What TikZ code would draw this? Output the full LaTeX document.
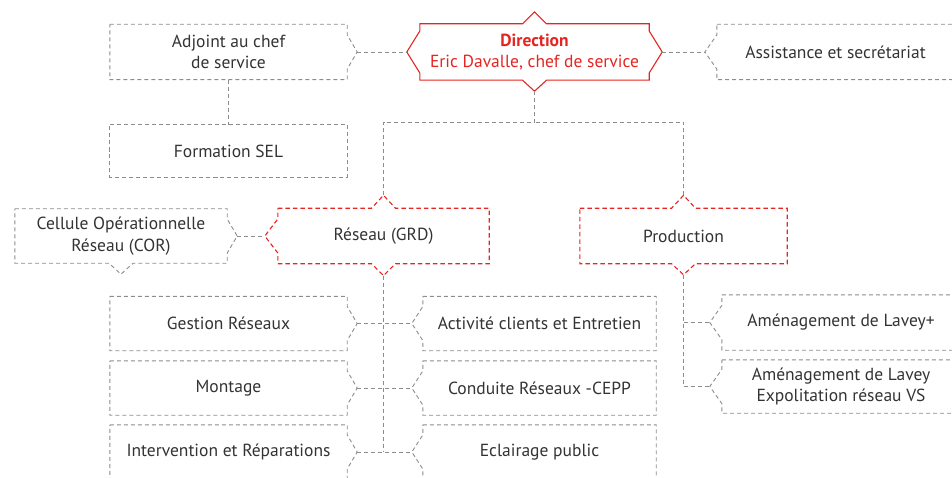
\documentclass[tikz,border=0pt]{standalone}
\usepackage{fontspec}
\setmainfont{PT Sans}
\usepackage{tikz}
\usetikzlibrary{calc}
\definecolor{ink}{HTML}{333333}
\definecolor{frame}{HTML}{8C8C8C}
\definecolor{alert}{HTML}{E52521}
\tikzset{
  unit/.style={text=ink, align=center, inner sep=0pt, font=\fontsize{17.5}{21.5}\selectfont},
  graybox/.style={draw=frame, line width=0.9pt, dash pattern=on 4pt off 3pt},
  redbox/.style={draw=alert, line width=1.1pt, dash pattern=on 4.5pt off 3pt},
  headbox/.style={draw=alert, line width=1.1pt},
  link/.style={draw=frame, line width=0.9pt, dash pattern=on 4pt off 3pt}
}
\def\notchw{12pt}
\def\notchh{17pt}
% outline of a box with a point on each side (depth 0pt = flat side)
\newcommand{\notchbox}[6][graybox]{%
  \draw[#1] (#2.north west)
    -- ($(#2.north)+(-\notchw,0)$) -- ($(#2.north)+(0,#3)$) -- ($(#2.north)+(\notchw,0)$)
    -- (#2.north east)
    -- ($(#2.east)+(0,\notchh)$) -- ($(#2.east)+(#4,0)$) -- ($(#2.east)+(0,-\notchh)$)
    -- (#2.south east)
    -- ($(#2.south)+(\notchw,0)$) -- ($(#2.south)+(0,-#5)$) -- ($(#2.south)+(-\notchw,0)$)
    -- (#2.south west)
    -- ($(#2.west)+(0,-\notchh)$) -- ($(#2.west)+(-#6,0)$) -- ($(#2.west)+(0,\notchh)$)
    -- cycle;}

\begin{document}
\begin{tikzpicture}[x=1pt, y=-1pt]
  \useasboundingbox (0,0) rectangle (952,478);
  \clip (0,0) rectangle (952,478);

  % Top row
  \node[unit, text=alert, minimum width=229pt, minimum height=56pt] (dir) at (534.5,52)
    {\textbf{Direction}\\Eric Davalle, chef de service};
  \node[unit, minimum width=237pt, minimum height=55pt] (adj) at (228.5,52) {Adjoint au chef\\de service};
  \node[unit, minimum width=237pt, minimum height=55pt] (asst) at (835.5,52) {Assistance et secrétariat};
  \node[unit, minimum width=237pt, minimum height=52pt] (sel) at (228.5,151) {Formation SEL};

  % Second level
  \node[unit, minimum width=212pt, minimum height=54pt] (cor) at (121,236) {Cellule Opérationnelle\\Réseau (COR)};
  \node[unit, minimum width=211pt, minimum height=55pt] (res) at (383.5,236) {Réseau (GRD)};
  \node[unit, minimum width=207pt, minimum height=55pt] (prod) at (683.5,236) {Production};

  % Network units
  \node[unit, minimum width=237pt, minimum height=54pt] (gest) at (228.5,323.5) {Gestion Réseaux};
  \node[unit, minimum width=237pt, minimum height=54pt] (mont) at (228.5,388) {Montage};
  \node[unit, minimum width=237pt, minimum height=54pt] (interv) at (228.5,452) {Intervention et Réparations};
  \node[unit, minimum width=233pt, minimum height=54pt] (act) at (539.5,323.5) {Activité clients et Entretien};
  \node[unit, minimum width=233pt, minimum height=54pt] (cond) at (539.5,388) {Conduite Réseaux -CEPP};
  \node[unit, minimum width=233pt, minimum height=54pt] (ecl) at (539.5,452) {Eclairage public};

  % Production units
  \node[unit, minimum width=238pt, minimum height=55pt] (amen1) at (841,322.5) {Aménagement de Lavey+};
  \node[unit, minimum width=238pt, minimum height=53pt] (amen2) at (841,386.5) {Aménagement de Lavey\\Expolitation réseau VS};

  % Outlines
  \def\notchh{21pt}
  \notchbox[headbox]{dir}{12pt}{13pt}{11pt}{13pt}
  \def\notchh{17pt}
  \notchbox{adj}{0pt}{10pt}{0pt}{0pt}
  \notchbox{asst}{0pt}{0pt}{0pt}{12pt}
  \notchbox{sel}{0pt}{0pt}{0pt}{0pt}
  \notchbox{cor}{0pt}{10pt}{11pt}{0pt}
  \notchbox[redbox]{res}{13pt}{0pt}{12pt}{13pt}
  \notchbox[redbox]{prod}{13pt}{0pt}{11pt}{0pt}
  \foreach \n in {gest, mont, interv} \notchbox{\n}{0pt}{10pt}{0pt}{0pt};
  \foreach \n in {act, cond, ecl} \notchbox{\n}{0pt}{0pt}{0pt}{11pt};
  \foreach \n in {amen1, amen2} \notchbox{\n}{0pt}{0pt}{0pt}{12pt};

  % Links
  \draw[link] ([xshift=10pt]adj.east) -- ([xshift=-13pt]dir.west);
  \draw[link] ([xshift=13pt]dir.east) -- ([xshift=-12pt]asst.west);
  \draw[link] (adj.south) -- (sel.north);
  \coordinate (fork) at (534.5,122);
  \draw[link] ([yshift=-11pt]dir.south) -- (fork);
  \draw[link] ([yshift=13pt]res.north) |- (fork);
  \draw[link] ([yshift=13pt]prod.north) |- (fork);
  \draw[link] ([xshift=10pt]cor.east) -- ([xshift=-13pt]res.west);
  \draw[link] ([yshift=-12pt]res.south) -- (res.south |- interv.east);
  \foreach \a/\b in {gest/act, mont/cond, interv/ecl}
    \draw[link] ([xshift=10pt]\a.east) -- ([xshift=-11pt]\b.west);
  \draw[link] ([yshift=-11pt]prod.south) |- ([xshift=-12pt]amen2.west);
  \draw[link] (prod.south |- amen1.west) -- ([xshift=-12pt]amen1.west);
\end{tikzpicture}
\end{document}
